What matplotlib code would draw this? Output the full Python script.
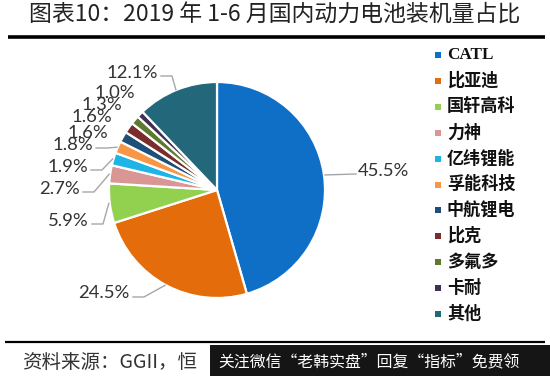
import numpy as np
import matplotlib
matplotlib.use("Agg")
import matplotlib.pyplot as plt
from matplotlib.patches import Rectangle

# ---- data -------------------------------------------------------------
companies = ["CATL", "比亚迪", "国轩高科", "力神", "亿纬锂能", "孚能科技",
             "中航锂电", "比克", "多氟多", "卡耐", "其他"]
shares = [45.5, 24.5, 5.9, 2.7, 1.9, 1.8, 1.6, 1.6, 1.3, 1.0, 12.1]
colors = ["#0F6FC6", "#E46C0A", "#92D050", "#D99694", "#1FB4E6", "#F79646",
          "#1F4E79", "#7B2C2C", "#5E7A2E", "#403152", "#22677A"]

TITLE = "图表10：2019 年 1-6 月国内动力电池装机量占比"
SOURCE = "资料来源：GGII，恒"
BANNER = "关注微信“老韩实盘”回复“指标”免费领"

# label layout (pixel space): text anchor x, line end y, draw leader?
lab_x = [358, 130, 89, 80, 88, 93, 108, 112, 122, 135, 158]
lab_y = [174, 297, 224, 192, 170, 148, 136, 121, 109, 97, 76]
leader = [True, True, True, True, True, True, False, False, False, False, True]

W, H = 550, 376
CX, CY, R = 217, 190, 108
CJK = ["Noto Sans CJK SC", "DejaVu Sans"]

fig = plt.figure(figsize=(W / 100, H / 100), dpi=100)
ax = fig.add_axes([0, 0, 1, 1])

wedges, _ = ax.pie(shares, colors=colors, startangle=-90, counterclock=True,
                   center=(CX, CY), radius=R, frame=True,
                   wedgeprops=dict(edgecolor="white", linewidth=1.6))
ax.set_xlim(0, W)
ax.set_ylim(H, 0)
ax.axis("off")

# percentage labels with elbow leader lines
for i, w in enumerate(wedges):
    mid = np.deg2rad((w.theta1 + w.theta2) / 2)
    ex, ey = CX + R * np.cos(mid), CY + R * np.sin(mid)
    tx, ty = lab_x[i], lab_y[i]
    txt = f"{shares[i]:.1f}%"
    if ex > CX:
        if leader[i]:
            ax.plot([ex + 1, tx - 2], [ey, ty], color="#A6A6A6", lw=1.0)
        ax.text(tx, ty + 1.5, txt, ha="left", va="baseline",
                fontsize=13.3, family="Lato", color="#333333")
    else:
        if leader[i]:
            ax.plot([ex - 1, tx + 14, tx + 3], [ey, ty, ty],
                    color="#A6A6A6", lw=1.0)
        ax.text(tx, ty + 1.5, txt, ha="right", va="baseline",
                fontsize=13.3, family="Lato", color="#333333")

# legend
for i, name in enumerate(companies):
    y = 55 + i * 25.9
    ax.add_patch(Rectangle((435, y - 3), 6, 6, color=colors[i], lw=0))
    ax.text(447, y, name, ha="left", va="center", fontsize=12.3,
            fontweight="bold", family=["Liberation Serif", "Noto Sans CJK SC"],
            color="#111111")

# title and rules
ax.text(275, 15, TITLE, ha="center", va="center", fontsize=16.5,
        family=CJK, color="#222222")
ax.plot([8, 545], [37, 37], color="black", lw=2.6, solid_capstyle="butt")
ax.plot([5, 545], [342, 342], color="black", lw=1.6, solid_capstyle="butt")

# source note and banner overlay
ax.text(22, 362, SOURCE, ha="left", va="center", fontsize=14,
        family=CJK, style="italic", color="#333333")
ax.add_patch(Rectangle((210, 345), 340, 31, color="#151515", lw=0))
ax.text(218, 362, BANNER, ha="left", va="center", fontsize=11.4,
        family=CJK, color="white")

fig.savefig("out.png", dpi=100, facecolor="white")
